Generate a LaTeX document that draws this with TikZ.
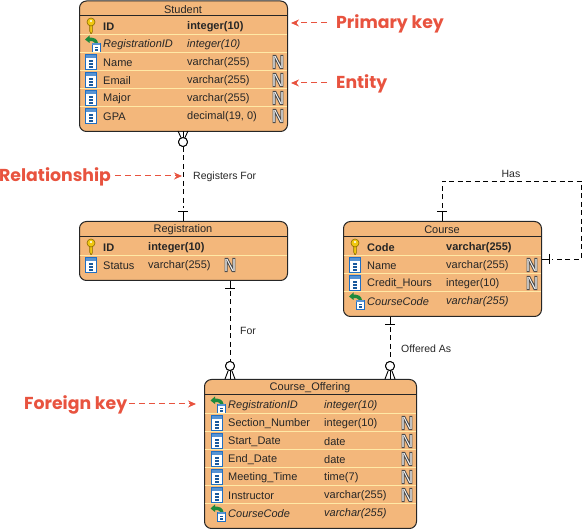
\documentclass[tikz,border=0pt]{standalone}
\usepackage{fontspec}
\setmainfont{Liberation Sans}
\newfontfamily\notefont{Poppins}
\usepackage{xcolor,graphicx}
\usetikzlibrary{arrows, arrows.meta, calc, positioning, shapes.geometric}

\definecolor{entityfill}{HTML}{F3B77B}
\definecolor{rowline}{HTML}{FFE9A6}
\definecolor{notered}{HTML}{E8533F}
\definecolor{iconblue}{HTML}{1F6FC4}
\definecolor{keygold}{HTML}{F0C810}
\definecolor{keyedge}{HTML}{8A6A00}
\definecolor{fkgreen}{HTML}{1E8A3C}

\newcommand{\outlined}[1]{\color{white}\special{pdf:code q 2 Tr 1 w 0.3 0.3 0.3 RG 1 1 1 rg}#1\special{pdf:code Q}}

\tikzset{
    pics/col/.style={code={
        \draw[iconblue, fill=white] (-5.5,-7.5) rectangle (5.5,7.5);
        \fill[iconblue!75] (-5,-7) rectangle (5,-3.5);
        \foreach \d in {-1,2,5} {\fill[iconblue!80!black] (-2,\d-0.7) rectangle (2,\d+0.7);}
    }},
    pics/key/.style={code={
        \fill[keygold, draw=keyedge, line width=0.6pt] (-1.3,-2) -- (-1.3,5) -- (0,8) -- (1.3,6) -- (1.3,-2) -- cycle;
        \draw[keyedge, fill=keygold, line width=0.6pt] (0,-4) circle (4);
        \fill[white] (0,-5) circle (1.2);
    }},
    pics/fk/.style={code={
        \draw[iconblue, fill=white] (1,-1) rectangle (9,8);
        \fill[iconblue!75] (1.4,-0.6) rectangle (8.6,1.5);
        \foreach \d in {3.5,6} {\fill[iconblue!80!black] (3.5,\d-0.6) rectangle (6.5,\d+0.6);}
        \fill[fkgreen] (-6,-4.5) -- (-1.5,-8.5) -- (-1.5,-6.5) .. controls (3,-6.5) and (6.5,-5) .. (7,-1)
            -- (4,-1) .. controls (3.5,-2.7) and (0.5,-3.2) .. (-1.5,-3) -- (-1.5,-1) -- cycle;
    }},
    every node/.style={font=\fontsize{11}{13}\selectfont, inner sep=0pt, text=black!85},
    entity/.style={rectangle, rounded corners=7pt, draw=black!85, line width=1pt, fill=entityfill, anchor=north west},
    title/.style={anchor=center},
    key text/.style={anchor=west, font=\fontsize{11}{13}\selectfont\bfseries},
    col text/.style={anchor=west},
    fk text/.style={anchor=west, font=\fontsize{11}{13}\selectfont\itshape},
    nullflag/.style={anchor=center, font=\fontsize{19}{19}\selectfont\bfseries},
    rel/.style={draw=black, line width=0.9pt, dash pattern=on 5pt off 3.5pt},
    tick/.style={draw=black, line width=0.9pt},
    optional/.style={circle, draw=black, fill=white, line width=0.9pt, minimum size=9pt},
    relname/.style={anchor=west, font=\fontsize{10.5}{12}\selectfont},
    note/.style={anchor=west, font=\fontsize{17.3}{18}\selectfont\notefont\bfseries, text=notered},
    notearrow/.style={draw=notered, line width=1pt, dash pattern=on 6pt off 4pt, -{Stealth[length=8pt, width=7pt]}}
}

% name, x, top, width, height, title
\newcommand{\entity}[6]{
    \node[entity, minimum width=#4pt, minimum height=#5pt] (#1) at (#2,#3) {};
    \node[title] (#1title) at ($(#2,#3)+(#4/2,9)$) {#6};
    \draw[black!85, line width=1pt] (#2,#3+15.5) -- (#2+#4,#3+15.5);
}
% name, x, width, first row y, column x's (icon, name, type, flag), rows
\newcommand{\erows}[9]{
    \foreach \kind/\cname/\ctype/\cnull [count=\i from 0] in {#9} {
        \pgfmathsetmacro{\ry}{#4+18*\i}
        \ifnum\i>0 \draw[rowline, line width=1pt] (#2+0.5,\ry-9) -- (#2+#3-0.5,\ry-9); \fi
        \pic at (#5,\ry) {\kind};
        \node[\kind\space text] (#1n\i) at (#6,\ry+1) {\cname};
        \node[\kind\space text] (#1t\i) at (#7,\ry+1) {\ctype};
        \ifx\cnull\nullmark \node[nullflag] (#1f\i) at (#8,\ry) {\scalebox{0.9}[1]{\outlined{N}}}; \fi
    }
}
\def\nullmark{N}

\begin{document}
\begin{tikzpicture}[x=1pt, y=-1pt, >=stealth']

\useasboundingbox (0,0) rectangle (582,529);

% Entities
\entity{student}{79}{0.5}{208}{130.5}{Student}
\erows{student}{79}{208}{26}{91}{103}{187}{278}{key/ID/integer(10)/-, fk/RegistrationID/integer(10)/-,
    col/Name/varchar(255)/N, col/Email/varchar(255)/N, col/Major/varchar(255)/N, col/GPA/{decimal(19, 0)}/N}

\entity{registration}{79}{221}{208}{59}{Registration}
\erows{registration}{79}{208}{247}{91}{103}{148}{230}{key/ID/integer(10)/-, col/Status/varchar(255)/N}

\entity{course}{343}{221}{198}{95}{Course}
\erows{course}{343}{198}{247}{355}{367}{446}{532}{key/Code/varchar(255)/-, col/Name/varchar(255)/N,
    col/Credit\_Hours/integer(10)/N, fk/CourseCode/varchar(255)/-}

\entity{offering}{204}{379}{212}{149}{Course\_Offering}
\erows{offering}{204}{212}{405}{216.5}{228}{324}{407}{fk/RegistrationID/integer(10)/-, col/Section\_Number/integer(10)/N,
    col/Start\_Date/date/N, col/End\_Date/date/N, col/Meeting\_Time/time(7)/N,
    col/Instructor/varchar(255)/N, fk/CourseCode/varchar(255)/-}

% Circles of the optional ends
\node[optional] (c1) at (183,142) {};
\node[optional] (c2) at (230,366) {};
\node[optional] (c3) at (390,366) {};

% Bars of the mandatory ends
\coordinate (b1) at (183,211);
\coordinate (b2) at (230,288);
\coordinate (b3) at (390,324);
\coordinate (b4) at (442,211);
\coordinate (b5) at (549,259);

% Relationships
\draw[rel, shorten >=3pt] (c1) -- (b1);
\draw[rel, shorten <=3pt] (b2) -- (c2);
\draw[rel, shorten <=3pt] (b3) -- (c3);
\draw[rel, shorten <=3pt, shorten >=3pt] (b4) -- (442,181) -- (581,181) -- (581,259) -- (b5);

% Solid stubs at the entities
\draw[tick] (b1) -- (b1 |- registration.north);
\draw[tick] (b2 |- registration.south) -- (b2);
\draw[tick] (b3 |- course.south) -- (b3);
\draw[tick] (b4) -- (b4 |- course.north);
\draw[tick] (course.east |- b5) -- (b5);
\draw[tick] (178,211) -- (188,211);
\draw[tick] (225,288) -- (235,288);
\draw[tick] (385,324) -- (395,324);
\draw[tick] (437,211) -- (447,211);
\draw[tick] (549,254) -- (549,264);

% Crow's feet
\foreach \c/\x/\s in {c1/183/131, c2/230/379, c3/390/379} {
    \draw[tick] (\c) -- (\x,\s);
    \draw[tick] (\c) -- (\x-5,\s);
    \draw[tick] (\c) -- (\x+5,\s);
    \node[optional] at (\c) {};
}

% Relationship names
\node[relname] (rn1) at (193,176.5) {Registers For};
\node[relname] (rn2) at (240,330.5) {For};
\node[relname] (rn3) at (401,348.5) {Offered As};
\node[relname, anchor=center] (rn4) at (511,173.5) {Has};

% Notes
\node[note] (n1) at (336,24) {Primary key};
\node[note] (n2) at (336,84) {Entity};
\node[note] (n3) at (-1,177) {Relationship};
\node[note] (n4) at (24,405) {Foreign key};

\coordinate (a1) at (291,23);
\coordinate (a2) at (291,83);
\coordinate (a3) at (182,176);
\coordinate (a4) at (196,404);

\draw[notearrow] (327,23) -- (a1);
\draw[notearrow] (327,83) -- (a2);
\draw[notearrow] (115,176) -- (a3);
\draw[notearrow] (129,404) -- (a4);

\end{tikzpicture}
\end{document}
